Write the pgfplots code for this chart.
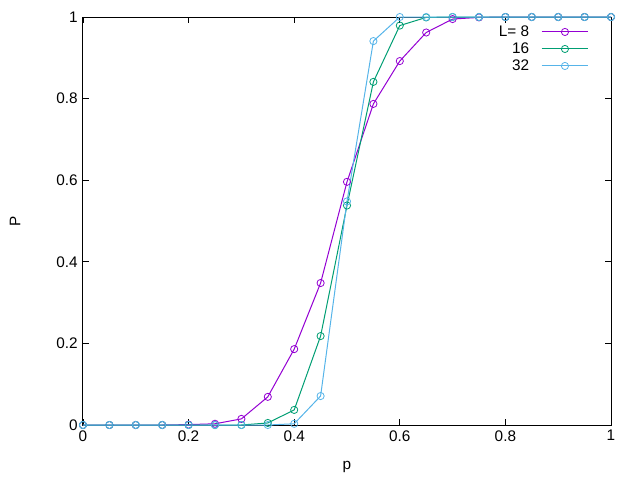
\documentclass[border=0pt]{standalone}
\usepackage{pgfplots}
\pgfplotsset{compat=1.18}
\usepackage{fontspec}
\setmainfont{Liberation Sans}
\definecolor{gpurple}{HTML}{9400D3}
\definecolor{ggreen}{HTML}{009E73}
\definecolor{gblue}{HTML}{56B4E9}
\begin{document}
\fontsize{11.5}{14}\selectfont
\begin{tikzpicture}
\path[use as bounding box] (-62.25pt,-41.25pt) rectangle (417.75pt,318.75pt);
\begin{axis}[
  at={(0,0)}, anchor=south west,
  scale only axis, width=396pt, height=306pt,
  xmin=0, xmax=1, ymin=0, ymax=1,
  xtick={0,0.2,0.4,0.6,0.8,1}, ytick={0,0.2,0.4,0.6,0.8,1},
  xticklabels={0,0.2,0.4,0.6,0.8,1}, yticklabels={0,0.2,0.4,0.6,0.8,1},
  tick align=inside, major tick length=4.5pt,
  tick style={black, line width=0.6pt},
  axis line style={line width=0.75pt},
  /pgf/number format/assume math mode=true,
  ticklabel style={font=\fontsize{11.5}{14}\selectfont},
  xlabel={p}, ylabel={P},
  label style={font=\fontsize{11.5}{14}\selectfont},
  xlabel style={at={(0.5,0)}, anchor=center, yshift=-31.5pt},
  ylabel style={at={(0,0.5)}, anchor=center, yshift=51pt},
  every axis plot/.append style={line width=0.75pt, mark=o, mark size=2.7pt, mark options={solid, line width=0.6pt}},
  legend plot pos=right, legend cell align=right,
  legend style={draw=none, fill=none, at={(0.966,0.993)}, anchor=north east,
    font=\fontsize{11.5}{14}\selectfont, row sep=-1pt},
  legend image code/.code={\path (0pt,0pt); \draw[mark repeat=2,mark phase=2] plot coordinates {(7pt,0pt) (24.5pt,0pt) (42pt,0pt)};},
  clip=false,
]
\addplot[gpurple] coordinates {
(0,0) (0.05,0) (0.1,0) (0.15,0) (0.2,0.001) (0.25,0.003) (0.3,0.015) (0.35,0.069) (0.4,0.186) (0.45,0.348) (0.5,0.596) (0.55,0.787) (0.6,0.892) (0.65,0.962) (0.7,0.995) (0.75,0.999) (0.8,1) (0.85,1) (0.9,1) (0.95,1) (1,1)};
\addlegendentry{L= 8}
\addplot[ggreen] coordinates {
(0,0) (0.05,0) (0.1,0) (0.15,0) (0.2,0) (0.25,0) (0.3,0) (0.35,0.005) (0.4,0.037) (0.45,0.218) (0.5,0.538) (0.55,0.841) (0.6,0.979) (0.65,0.999) (0.7,1) (0.75,1) (0.8,1) (0.85,1) (0.9,1) (0.95,1) (1,1)};
\addlegendentry{16}
\addplot[gblue] coordinates {
(0,0) (0.05,0) (0.1,0) (0.15,0) (0.2,0) (0.25,0) (0.3,0) (0.35,0) (0.4,0.003) (0.45,0.071) (0.5,0.548) (0.55,0.941) (0.6,1) (0.65,1) (0.7,1) (0.75,1) (0.8,1) (0.85,1) (0.9,1) (0.95,1) (1,1)};
\addlegendentry{32}
\end{axis}
\end{tikzpicture}
\end{document}
